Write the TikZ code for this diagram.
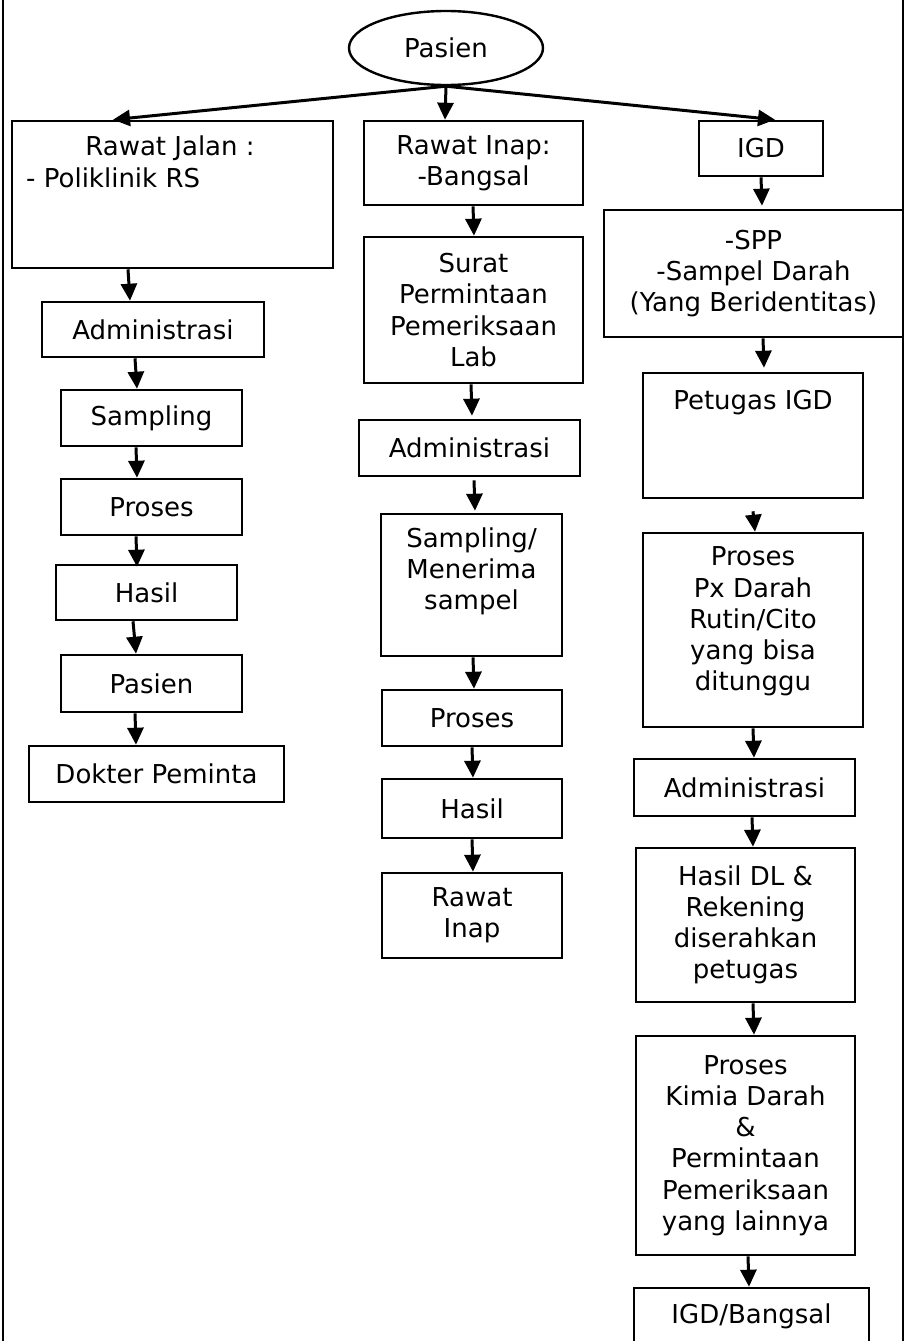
\documentclass[tikz,border=0pt]{standalone}
\usepackage{fontspec}
\setmainfont{DejaVu Sans}
\usetikzlibrary{arrows.meta}
\usetikzlibrary{shapes.geometric}

\begin{document}
\begin{tikzpicture}[x=1pt, y=-1pt,
  box/.style={draw, line width=2.6pt, inner sep=0, align=center, font=\fontsize{26}{31.2}\selectfont},
  txt/.style={inner sep=0, align=center, font=\fontsize{26}{31.2}\selectfont},
  arr/.style={line width=3pt, -{Triangle[length=17pt,width=16pt]}}]
\useasboundingbox (0,0) rectangle (906,1341);
\draw[line width=2.8pt] (3,0) -- (3,1341) (903,0) -- (903,1341);

\node[box, ellipse, line width=2.4pt, minimum width=194pt, minimum height=74pt] (pasien) at (446,48) {Pasien};

% rawat jalan
\node[box, minimum width=321pt, minimum height=147pt] (rj) at (172.5,194.5) {};
\node[txt] (rjtitle) at (170,148) {Rawat Jalan :};
\node[txt, anchor=west] (rjsub) at (26,178) {- Poliklinik RS};
\node[box, minimum width=222pt, minimum height=55pt] (adm1) at (153,329.5) {Administrasi};
\node[box, minimum width=181pt, minimum height=56pt] (samp1) at (151.5,418) {Sampling};
\node[box, minimum width=181pt, minimum height=56pt] (pros1) at (151.5,507) {Proses};
\node[box, minimum width=181pt, minimum height=55pt] (hasil1) at (146.5,592.5) {Hasil};
\node[box, minimum width=181pt, minimum height=57pt] (pas1) at (151.5,683.5) {Pasien};
\node[box, minimum width=255pt, minimum height=56pt] (dokter) at (156.5,774) {Dokter Peminta};

% rawat inap
\node[box, minimum width=219pt, minimum height=84pt] (ri) at (473.5,163) {Rawat Inap:\\-Bangsal};
\node[box, minimum width=219pt, minimum height=146pt] (surat) at (473.5,310) {Surat\\Permintaan\\Pemeriksaan\\Lab};
\node[box, minimum width=221pt, minimum height=56pt] (adm2) at (469.5,448) {Administrasi};
\node[box, minimum width=181pt, minimum height=142pt] (samp2) at (471.5,585) {};
\node[txt] (samp2txt) at (471.5,571.5) {Sampling/\\Menerima\\sampel};
\node[box, minimum width=180pt, minimum height=56pt] (pros2) at (472,718) {Proses};
\node[box, minimum width=180pt, minimum height=59pt] (hasil2) at (472,808.5) {Hasil};
\node[box, minimum width=180pt, minimum height=85pt] (rinap) at (472,915.5) {Rawat\\Inap};

% igd
\node[box, minimum width=124pt, minimum height=55pt] (igd) at (761,148.5) {IGD};
\node[box, minimum width=299pt, minimum height=127pt] (spp) at (753.5,273.5) {-SPP\\-Sampel Darah\\(Yang Beridentitas)};
\node[box, minimum width=220pt, minimum height=125pt] (petugas) at (753,435.5) {};
\node[txt] (petugastxt) at (753,403) {Petugas IGD};
\node[box, minimum width=220pt, minimum height=194pt] (prospx) at (753,630) {};
\node[txt] (prospxtxt) at (753,621.5) {Proses\\Px Darah\\Rutin/Cito\\yang bisa\\ditunggu};
\node[box, minimum width=221pt, minimum height=57pt] (adm3) at (744.5,787.5) {Administrasi};
\node[box, minimum width=219pt, minimum height=154pt] (hasildl) at (745.5,925) {Hasil DL \&\\Rekening\\diserahkan\\petugas};
\node[box, minimum width=219pt, minimum height=219pt] (kimia) at (745.5,1145.5) {Proses\\Kimia Darah\\\&\\Permintaan\\Pemeriksaan\\yang lainnya};
\node[box, minimum width=235pt, minimum height=56pt] (igdb) at (751.5,1316) {IGD/Bangsal};

\draw[arr] (pasien.south) -- ([xshift=-59.5pt]rj.north);
\draw[arr] (pasien.south) -- ([xshift=-28.5pt]ri.north);
\draw[arr] (pasien.south) -- ([xshift=14pt]igd.north);

\foreach \a/\b/\s/\t in {rj/adm1/{-44.5,0}/{-23,0}, adm1/samp1/{-18,0}/{-14.5,0},
  samp1/pros1/{-15.5,0}/{-14.5,0}, pros1/hasil1/{-15.5,0}/{-9.5,3},
  hasil1/pas1/{-13.5,0}/{-15.5,0}, pas1/dokter/{-16.5,0}/{-20.5,0},
  ri/surat/{-0.5,0}/{0.5,0}, surat/adm2/{-2.5,0}/{2.5,-3},
  adm2/samp2/{4.5,3}/{3.5,-2}, samp2/pros2/{1.5,0}/{2,0},
  pros2/hasil2/{0,0}/{1,0}, hasil2/rinap/{0,0}/{1,0},
  igd/spp/{0,0}/{8.5,-3}, spp/petugas/{9.5,0}/{11,-4},
  petugas/prospx/{0,12}/{2,0}, prospx/adm3/{0,0}/{9.5,0},
  adm3/hasildl/{7.5,0}/{7.5,0}, hasildl/kimia/{7.5,0}/{8.5,0},
  kimia/igdb/{2.5,0}/{-2.5,0}}
  \draw[arr] ([shift={(\s)}]\a.south) -- ([shift={(\t)}]\b.north);
\end{tikzpicture}
\end{document}
